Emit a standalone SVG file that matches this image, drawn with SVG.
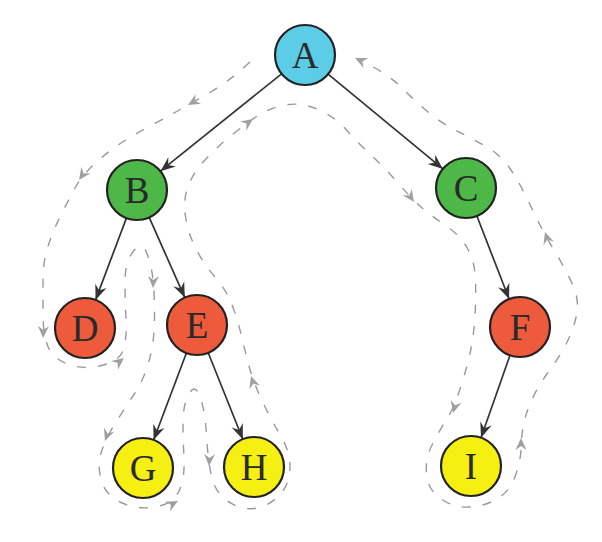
<svg xmlns="http://www.w3.org/2000/svg" xmlns:xlink="http://www.w3.org/1999/xlink" width="602" height="542" viewBox="0 0 602 542">
<style>
.node circle{stroke:#222;stroke-width:2.2}
.node text{font-family:"Liberation Serif","Times New Roman",serif;font-size:37px;fill:#2a2a2a;text-anchor:middle}
.edge{stroke:#333;stroke-width:1.7;fill:none;marker-end:url(#ah)}
.tour{stroke:#999;stroke-width:1.4;fill:none;stroke-dasharray:9 12}
.ta{fill:#a0a0a0}
</style>
<defs>
<marker id="ah" markerUnits="userSpaceOnUse" markerWidth="18" markerHeight="14" viewBox="-16 -7 18 14" refX="0" refY="0" orient="auto">
<path d="M0,0 L-15,-6 L-10,0 L-15,6 Z" fill="#333"/>
</marker>
<path id="ga" d="M0,0 L-12,-5.5 L-8,0 L-12,5.5 Z"/>
</defs>
<rect width="602" height="542" fill="#fff"/>
<g id="connectors">
<line class="edge" x1="281.6" y1="73.8" x2="160.4" y2="171.2"/>
<line class="edge" x1="328.1" y1="74.1" x2="442.9" y2="168.9"/>
<line class="edge" x1="126.4" y1="218.1" x2="95.6" y2="299.9"/>
<line class="edge" x1="149.2" y1="217.4" x2="184.8" y2="297.6"/>
<line class="edge" x1="476.9" y1="216" x2="509.1" y2="299"/>
<line class="edge" x1="186.4" y1="353" x2="153.6" y2="440"/>
<line class="edge" x1="208.2" y1="352.8" x2="242.8" y2="439.2"/>
<line class="edge" x1="510" y1="355.3" x2="481" y2="437.7"/>
<g id="tour">
<path class="tour" d="M250,62 Q227,83 210,92.5 Q193,102 180,109.5 Q167,117 152,125 Q137,133 123.5,141.5 Q110,150 96,162.5 Q82,175 74.5,189 Q67,203 59.5,218 Q52,233 47.5,248 Q43,263 43,278.5 Q43,294 43,313.5 Q43,333 47.5,345.5 Q52,358 67.5,364 Q83,370 101.5,365.5 Q120,361 123.5,349.5 Q127,338 126,319 Q125,300 125,281 Q125,262 133.5,251 Q142,240 147.5,255 Q153,270 154,292 Q155,314 154,331 Q153,348 148,364.5 Q143,381 134,394.5 Q125,408 116,422 Q107,436 102,450 Q97,464 101,479.5 Q105,495 121,502.5 Q137,510 155,507 Q173,504 179,491 Q185,478 184,458 Q183,438 183,421.5 Q183,405 189,394 Q195,383 200,396.5 Q205,410 206.5,435.5 Q208,461 211.5,476.5 Q215,492 227.5,501 Q240,510 254,508.5 Q268,507 279,495.5 Q290,484 290,467.5 Q290,451 280,434.5 Q270,418 261.5,399.5 Q253,381 249,366 Q245,351 241.5,336 Q238,321 232.5,306 Q227,291 215,277 Q203,263 195.5,248 Q188,233 185.5,216.5 Q183,200 188,186.5 Q193,173 205,160 Q217,147 232.5,134.5 Q248,122 259,115 Q270,108 285,105 Q300,102 317,109 Q334,116 346,129.5 Q358,143 371,155 Q384,167 397.5,182.5 Q411,198 420.5,206.5 Q430,215 445,225 Q460,235 467.5,248.5 Q475,262 475.5,280 Q476,298 475,315.5 Q474,333 471,348.5 Q468,364 461,386 Q454,408 447.5,418 Q441,428 433,443 Q425,458 426.5,474 Q428,490 441,499 Q454,508 470,507 Q486,506 498.5,498 Q511,490 516,474 Q521,458 521,449 Q521,440 523,427.5 Q525,415 531.5,400.5 Q538,386 547,374 Q556,362 564,348 Q572,334 576,317.5 Q580,301 573,285.5 Q566,270 556,253.5 Q546,237 540,225 Q534,213 526.5,197.5 Q519,182 510,168.5 Q501,155 486,146.5 Q471,138 456,130.5 Q441,123 427.5,111.5 Q414,100 402.5,88.5 Q391,77 376,68.5 L362,61"/>
<use xlink:href="#ga" class="ta" transform="translate(188,105) rotate(150)"/>
<use xlink:href="#ga" class="ta" transform="translate(79,180) rotate(125)"/>
<use xlink:href="#ga" class="ta" transform="translate(43,338) rotate(92)"/>
<use xlink:href="#ga" class="ta" transform="translate(124,358) rotate(-38)"/>
<use xlink:href="#ga" class="ta" transform="translate(153,288) rotate(92)"/>
<use xlink:href="#ga" class="ta" transform="translate(105,441) rotate(110)"/>
<use xlink:href="#ga" class="ta" transform="translate(178,501) rotate(-28)"/>
<use xlink:href="#ga" class="ta" transform="translate(209,466) rotate(93)"/>
<use xlink:href="#ga" class="ta" transform="translate(251,376) rotate(-108)"/>
<use xlink:href="#ga" class="ta" transform="translate(253,119) rotate(-35)"/>
<use xlink:href="#ga" class="ta" transform="translate(414,202) rotate(55)"/>
<use xlink:href="#ga" class="ta" transform="translate(453,413) rotate(105)"/>
<use xlink:href="#ga" class="ta" transform="translate(521,438) rotate(-90)"/>
<use xlink:href="#ga" class="ta" transform="translate(545,232) rotate(-108)"/>
<use xlink:href="#ga" class="ta" transform="translate(355,58) rotate(-155)"/>
</g>
</g>
<g id="node-A" class="node"><circle cx="305" cy="55" r="30" fill="#5ccde6"/><text x="305" y="68">A</text></g>
<g id="node-B" class="node"><circle cx="137" cy="190" r="30" fill="#4db848"/><text x="137" y="203">B</text></g>
<g id="node-C" class="node"><circle cx="466" cy="188" r="30" fill="#4db848"/><text x="466" y="201">C</text></g>
<g id="node-D" class="node"><circle cx="85" cy="328" r="30" fill="#ee5a3c"/><text x="85" y="341">D</text></g>
<g id="node-E" class="node"><circle cx="197" cy="325" r="30" fill="#ee5a3c"/><text x="197" y="338">E</text></g>
<g id="node-F" class="node"><circle cx="520" cy="327" r="30" fill="#ee5a3c"/><text x="520" y="340">F</text></g>
<g id="node-G" class="node"><circle cx="143" cy="468" r="30" fill="#f5ef12"/><text x="143" y="481">G</text></g>
<g id="node-H" class="node"><circle cx="254" cy="467" r="30" fill="#f5ef12"/><text x="254" y="480">H</text></g>
<g id="node-I" class="node"><circle cx="471" cy="466" r="30" fill="#f5ef12"/><text x="471" y="479">I</text></g>
</svg>
